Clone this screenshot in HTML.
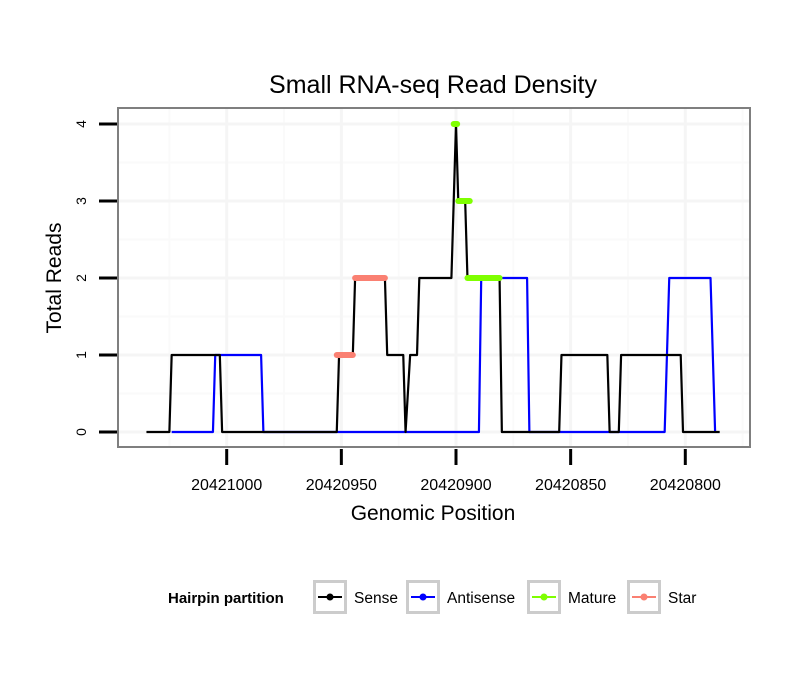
<!DOCTYPE html>
<html><head><meta charset="utf-8"><style>
body{margin:0;background:#fff;}
svg{display:block;font-family:"Liberation Sans",sans-serif;}
</style></head><body>
<svg id="chart" width="810" height="690">
<rect width="810" height="690" fill="#fff"/>
<text x="433" y="93" font-size="25" text-anchor="middle">Small RNA-seq Read Density</text>
<g id="grid"></g>
<g id="series"></g>
<rect x="118" y="108" width="632" height="339" fill="none" stroke="#7f7f7f" stroke-width="2"/>
<g id="axes"></g>
<text x="433" y="520" font-size="21" text-anchor="middle">Genomic Position</text>
<text transform="translate(61,278) rotate(-90)" font-size="21" text-anchor="middle">Total Reads</text>
<g>
<text x="168" y="603" font-size="15" font-weight="bold">Hairpin partition</text>
<g id="legend"></g>
</g>
</svg>
<script>
const senseX=[20421035,20421025,20421024,20421003,20421002,20420952,20420951,20420945,20420944,20420931,20420930,20420923,20420922,20420920,20420917,20420916,20420902,20420900,20420899,20420896,20420895,20420881,20420880,20420855,20420854,20420834,20420833,20420829,20420828,20420802,20420801,20420785];
const senseY=[0,0,1,1,0,0,1,1,2,2,1,1,0,1,1,2,2,4,3,3,2,2,0,0,1,1,0,0,1,1,0,0];
const antiX=[20421024,20421006,20421005,20420985,20420984,20420890,20420889,20420869,20420868,20420809,20420807,20420789,20420787];
const antiY=[0,0,1,1,0,0,2,2,0,0,2,2,0];
const matureSegs=[[20420901,20420899.5,4],[20420899,20420894,3],[20420895,20420881,2]];
const starSegs=[[20420952,20420945,1],[20420944,20420931,2]];
const xTicks=[20421000,20420950,20420900,20420850,20420800];
const yTicks=[0,1,2,3,4];
const legendLabels=["Sense","Antisense","Mature","Star"];
const legendColors=["#000000","#0000ff","#7fff00","#fa8072"];

const NS="http://www.w3.org/2000/svg";
function X(p){return 456+(20420900-p)*2.293;}
function Y(v){return 432-v*77;}
function mk(tag,attrs,parent){const e=document.createElementNS(NS,tag);for(const k in attrs)e.setAttribute(k,attrs[k]);parent.appendChild(e);return e;}
const grid=document.getElementById('grid'),series=document.getElementById('series'),axes=document.getElementById('axes'),leg=document.getElementById('legend');

const minorX=[];for(let i=0;i<xTicks.length;i++){minorX.push(xTicks[i]+25);}minorX.push(xTicks[xTicks.length-1]-25);
minorX.forEach(p=>{const x=X(p);if(x>118&&x<750){const l=mk('line',{x1:x,x2:x,y1:108,y2:447,stroke:'#fafafa','stroke-width':2},grid);

}});
for(let v=-0.5;v<=4.5;v+=1){const y=Y(v);if(y>108&&y<447){const l=mk('line',{x1:118,x2:750,y1:y,y2:y,stroke:'#fafafa','stroke-width':2},grid);

}}
xTicks.forEach(p=>{const l=mk('line',{x1:X(p),x2:X(p),y1:108,y2:447,stroke:'#f5f5f5','stroke-width':3},grid);

});
yTicks.forEach(v=>{const l=mk('line',{x1:118,x2:750,y1:Y(v),y2:Y(v),stroke:'#f5f5f5','stroke-width':3},grid);

});

function poly(xs,ys,color,name){const pts=xs.map((p,i)=>X(p)+','+Y(ys[i])).join(' ');
const e=mk('polyline',{points:pts,fill:'none',stroke:color,'stroke-width':2.2,'stroke-linejoin':'round'},series);

}
poly(antiX,antiY,'#0000ff','antisense-line');
poly(senseX,senseY,'#000000','sense-line');
function segs(arr,color,name){arr.forEach(s=>{const e=mk('line',{x1:X(s[0]),x2:X(s[1]),y1:Y(s[2]),y2:Y(s[2]),stroke:color,'stroke-width':6,'stroke-linecap':'round'},series);

});}
segs(starSegs,'#fa8072','star-segment');
segs(matureSegs,'#7fff00','mature-segment');

xTicks.forEach(p=>{const x=X(p);
const t=mk('line',{x1:x,x2:x,y1:449,y2:465,stroke:'#000','stroke-width':3},axes);


const tx=mk('text',{x:x,y:490,'font-size':16,'text-anchor':'middle'},axes);tx.textContent=p;

});
yTicks.forEach(v=>{const y=Y(v);
const t=mk('line',{x1:99,x2:117,y1:y,y2:y,stroke:'#000','stroke-width':3},axes);


const tx=mk('text',{transform:'translate(86,'+y+') rotate(-90)','font-size':14,'text-anchor':'middle'},axes);tx.textContent=v;

});

const boxX=[313,406,527,627];
legendLabels.forEach((lab,i)=>{const bx=boxX[i];
const r=mk('rect',{x:bx+1.5,y:581.5,width:31,height:31,fill:'#fff',stroke:'#cccccc','stroke-width':3},leg);


mk('line',{x1:bx+5,x2:bx+29,y1:597,y2:597,stroke:legendColors[i],'stroke-width':2},leg);
mk('circle',{cx:bx+17,cy:597,r:3.5,fill:legendColors[i]},leg);
const t=mk('text',{x:bx+41,y:603,'font-size':15.5},leg);t.textContent=lab;

});
</script>
</body></html>
